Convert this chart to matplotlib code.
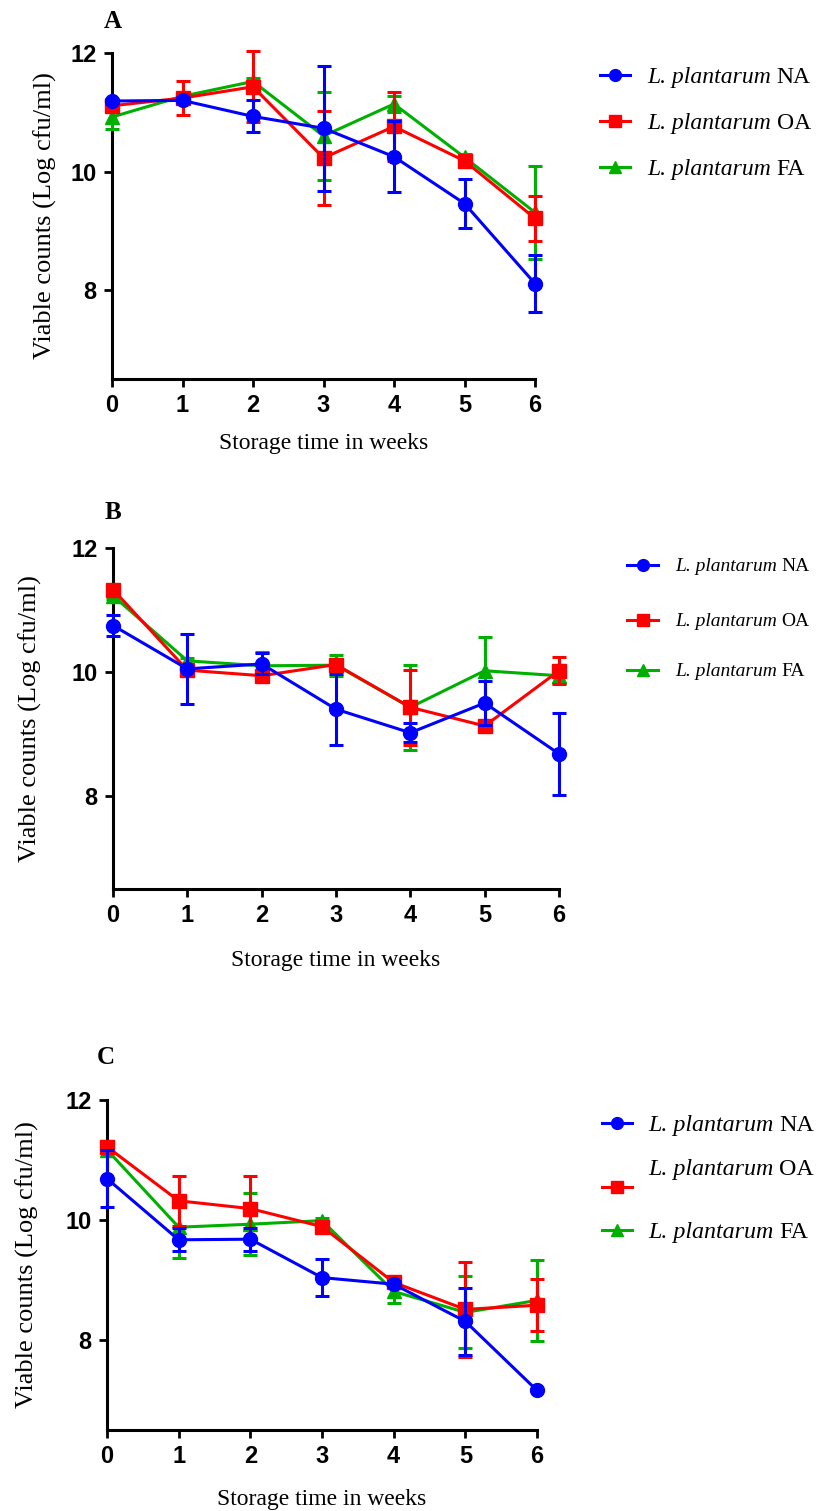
import matplotlib
matplotlib.use("Agg")
import matplotlib.pyplot as plt
from matplotlib.lines import Line2D

plt.rcParams['font.family'] = ['Liberation Serif', 'DejaVu Serif']

# ---------------- data ----------------
weeks = [0, 1, 2, 3, 4, 5, 6]
series_names = ["NA", "OA", "FA"]
species = "L. plantarum"
x_label = "Storage time in weeks"
y_label = "Viable counts (Log cfu/ml)"
y_ticks = [8, 10, 12]

A_NA = [11.19, 11.20, 10.93, 10.73, 10.25, 9.46, 8.11]
A_NA_err = [0.03, 0.05, 0.27, 1.05, 0.60, 0.41, 0.48]
A_OA = [11.11, 11.24, 11.43, 10.23, 10.76, 10.18, 9.21]
A_OA_err = [0.05, 0.28, 0.60, 0.79, 0.59, 0.04, 0.38]
A_FA = [10.92, 11.27, 11.52, 10.60, 11.14, 10.24, 9.31]
A_FA_err = [0.20, 0.05, 0.05, 0.74, 0.14, 0.05, 0.79]

B_NA = [10.75, 10.05, 10.13, 9.40, 9.02, 9.50, 8.68]
B_NA_err = [0.17, 0.57, 0.17, 0.57, 0.15, 0.36, 0.66]
B_OA = [11.33, 10.03, 9.94, 10.12, 9.43, 9.13, 10.02]
B_OA_err = [0.05, 0.05, 0.06, 0.08, 0.60, 0.05, 0.22]
B_FA = [11.23, 10.18, 10.10, 10.11, 9.43, 10.02, 9.94]
B_FA_err = [0.05, 0.05, 0.22, 0.17, 0.68, 0.55, 0.12]

C_NA = [10.69, 9.67, 9.68, 9.04, 8.93, 8.31, 7.16]
C_NA_err = [0.47, 0.19, 0.19, 0.31, 0.05, 0.56, 0.0]
C_OA = [11.22, 10.32, 10.19, 9.89, 8.96, 8.51, 8.58]
C_OA_err = [0.10, 0.42, 0.54, 0.05, 0.05, 0.79, 0.43]
C_FA = [11.17, 9.88, 9.93, 9.99, 8.81, 8.46, 8.66]
C_FA_err = [0.06, 0.52, 0.52, 0.05, 0.20, 0.60, 0.68]

# ---------------- style ----------------
W, H = 819, 1511
colors = {"NA": "#0000FF", "OA": "#FF0000", "FA": "#00B000"}
markers = {"NA": "o", "OA": "s", "FA": "^"}
msizes = {"NA": 10, "OA": 9.5, "FA": 10}
zord = {"NA": 5, "OA": 4, "FA": 3}
LW = 2.2
tick_font = ['Liberation Sans Narrow', 'Liberation Sans', 'DejaVu Sans']

fig = plt.figure(figsize=(W / 100, H / 100), dpi=100)
renderer = fig.canvas.get_renderer()


def px_axes(l, t, r, b):
    return fig.add_axes([l / W, 1 - b / H, (r - l) / W, (b - t) / H])


panels = [
    dict(letter="A", box=(112, 53, 535, 379), title=(113, 22), ylab_x=45, xlab_y=443,
         data={"NA": (A_NA, A_NA_err), "OA": (A_OA, A_OA_err), "FA": (A_FA, A_FA_err)},
         leg=dict(h=(600, 630), tx=647, rows=[(75, 75), (121, 121), (167, 167)], fs=17.0)),
    dict(letter="B", box=(113, 548, 559, 889), title=(113, 512), ylab_x=30, xlab_y=960,
         data={"NA": (B_NA, B_NA_err), "OA": (B_OA, B_OA_err), "FA": (B_FA, B_FA_err)},
         leg=dict(h=(627, 658), tx=675, rows=[(565, 565), (620, 620), (670, 670)], fs=14.0)),
    dict(letter="C", box=(107, 1100, 537, 1430), title=(106, 1058), ylab_x=27, xlab_y=1499,
         data={"NA": (C_NA, C_NA_err), "OA": (C_OA, C_OA_err), "FA": (C_FA, C_FA_err)},
         leg=dict(h=(602, 632), tx=648, rows=[(1123, 1123), (1187, 1167), (1230, 1230)], fs=17.3)),
]

for p in panels:
    l, t, r, b = p["box"]
    ax = px_axes(l, t, r, b)
    for name in ["FA", "OA", "NA"]:
        vals, errs = p["data"][name]
        cont = ax.errorbar(weeks, vals, yerr=errs, color=colors[name], marker=markers[name],
                           ms=msizes[name], lw=LW, elinewidth=LW, capsize=5, capthick=LW,
                           zorder=zord[name])
        for ch in cont.get_children():
            ch.set_clip_on(False)
    ax.set_xlim(0, 6)
    ax.set_ylim(6.5, 12)
    ax.set_xticks(weeks)
    ax.set_yticks(y_ticks)
    for s in ["top", "right"]:
        ax.spines[s].set_visible(False)
    for s in ["left", "bottom"]:
        ax.spines[s].set_linewidth(2.2)
    ax.tick_params(direction="out", length=6, width=2, pad=5)
    for lab in ax.get_xticklabels() + ax.get_yticklabels():
        lab.set_family(tick_font)
        lab.set_fontweight("bold")
        lab.set_fontsize(17)
    # panel letter
    fig.text(p["title"][0] / W, 1 - p["title"][1] / H, p["letter"], fontsize=18,
             fontweight="bold", ha="center", va="center")
    # axis labels
    fig.text(p["ylab_x"] / W, 1 - ((t + b) / 2) / H, y_label, rotation=90, fontsize=19,
             ha="center", va="center")
    fig.text(((l + r) / 2) / W, 1 - p["xlab_y"] / H, x_label, fontsize=17,
             ha="center", va="center")
    # legend (drawn by hand: handle + italic species + upright suffix)
    lg = p["leg"]
    x0, x1 = lg["h"]
    for name, (yh, yt) in zip(series_names, lg["rows"]):
        fig.add_artist(Line2D([x0 / W, (x0 + x1) / 2 / W, x1 / W], [1 - yh / H] * 3,
                              transform=fig.transFigure, color=colors[name], lw=LW,
                              marker=markers[name], markevery=[1], ms=msizes[name] * 0.85))
        t1 = fig.text(lg["tx"] / W, 1 - yt / H, species, fontsize=lg["fs"],
                      style="italic", ha="left", va="baseline")
        ext = t1.get_window_extent(renderer=renderer)
        space = lg["fs"] * 100 / 72 * 0.25
        fig.text((ext.x1 + space) / W, 1 - yt / H, name, fontsize=lg["fs"],
                 ha="left", va="baseline")

# shift baselines so that text centres sit on the given rows
for txt in fig.texts:
    if txt.get_va() == "baseline":
        x, y = txt.get_position()
        fs_px = txt.get_fontsize() * 100 / 72
        txt.set_position((x, y - 0.32 * fs_px / H))

fig.savefig("out.png", dpi=100)
